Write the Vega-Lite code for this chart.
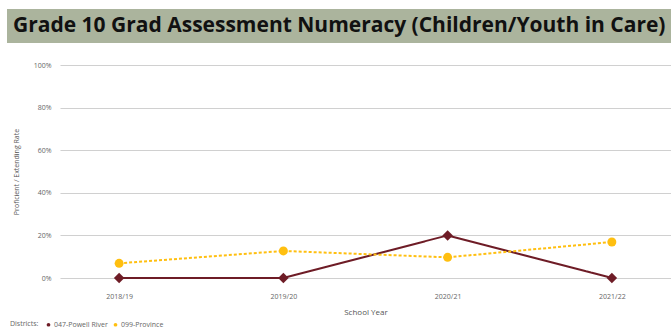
{
  "$schema": "https://vega.github.io/schema/vega-lite/v6.json",
  "autosize": {"type": "none"},
  "padding": {"left": 60, "top": 65, "right": 0, "bottom": 57},
  "width": 611,
  "height": 213,
  "background": "white",
  "config": {
    "font": "Open Sans",
    "view": {"stroke": null}
  },
  "data": {
    "values": [
      {"year": "2018/19", "district": "047-Powell River", "rate": 0},
      {"year": "2019/20", "district": "047-Powell River", "rate": 0},
      {"year": "2020/21", "district": "047-Powell River", "rate": 0.2},
      {"year": "2021/22", "district": "047-Powell River", "rate": 0},
      {"year": "2018/19", "district": "099-Province", "rate": 0.069},
      {"year": "2019/20", "district": "099-Province", "rate": 0.127},
      {"year": "2020/21", "district": "099-Province", "rate": 0.097},
      {"year": "2021/22", "district": "099-Province", "rate": 0.169}
    ]
  },
  "encoding": {
    "x": {
      "field": "year", "type": "ordinal", "title": "School Year",
      "scale": {"type": "point", "padding": 0.36},
      "axis": {"labelAngle": 0, "labelFontSize": 7, "labelColor": "#666666", "ticks": false, "domain": false, "labelPadding": 14, "titleFontSize": 8, "titleColor": "#555555", "titleFontWeight": "normal", "titlePadding": 9}
    },
    "y": {
      "field": "rate", "type": "quantitative", "title": "Proficient / Extending Rate",
      "scale": {"domain": [0, 1]},
      "axis": {"format": ".0%", "values": [0, 0.2, 0.4, 0.6, 0.8, 1], "labelOverlap": false, "labelFontSize": 7, "labelColor": "#666666", "ticks": false, "domain": false, "labelPadding": 9, "gridColor": "#d0d0d0", "gridWidth": 1.2, "titleFontSize": 7, "titleColor": "#555555", "titleFontWeight": "normal", "titlePadding": 14}
    },
    "color": {
      "field": "district", "type": "nominal",
      "scale": {"domain": ["047-Powell River", "099-Province"], "range": ["#6e1c26", "#ffbf10"]},
      "legend": {
        "title": "Districts:", "orient": "none", "legendX": -50, "legendY": 256, "padding": 0,
        "direction": "horizontal", "titleOrient": "left", "titleFontSize": 7, "titleFontWeight": "normal", "titleColor": "#666666",
        "labelFontSize": 7, "labelColor": "#666666", "symbolType": "circle", "symbolSize": 14, "symbolOffset": 0, "columnPadding": 4, "labelOffset": 2, "titlePadding": 6,
        "encode": {"symbols": {"update": {"shape": {"value": "circle"}, "size": {"value": 14}, "strokeWidth": {"value": 0}}}}
      }
    }
  },
  "layer": [
    {
      "mark": {"type": "line", "strokeWidth": 2},
      "encoding": {
        "strokeDash": {
          "field": "district", "type": "nominal",
          "scale": {"domain": ["047-Powell River", "099-Province"], "range": [[1, 0], [3, 2]]},
          "legend": null
        },
        "opacity": {
          "datum": 1, "type": "quantitative",
          "scale": {"domain": [0, 1], "range": [1, 1]},
          "legend": {
            "title": "Grade 10 Grad Assessment Numeracy (Children/Youth in Care)",
            "orient": "none", "legendX": -53, "legendY": -56,
            "values": [1], "labelExpr": "''",
            "fillColor": "#abb49d", "strokeColor": null, "padding": 6, "cornerRadius": 0,
            "titleOrient": "top", "titleBaseline": "top", "titleAnchor": "start",
            "titleFont": "Open Sans", "titleFontSize": 21, "titleFontWeight": 700, "titleColor": "#111111", "titleLimit": 1000, "titlePadding": 0,
            "symbolSize": 0, "symbolOpacity": 0, "symbolStrokeWidth": 0, "labelFontSize": 1, "labelOffset": 0,
            "encode": {"symbols": {"update": {"opacity": {"value": 0}}}}
          }
        }
      }
    },
    {
      "transform": [{"filter": "datum.district === '047-Powell River'"}],
      "mark": {"type": "point", "filled": true, "opacity": 1, "shape": "diamond", "size": 110}
    },
    {
      "transform": [{"filter": "datum.district === '099-Province'"}],
      "mark": {"type": "point", "filled": true, "opacity": 1, "shape": "circle", "size": 80}
    }
  ]
}
